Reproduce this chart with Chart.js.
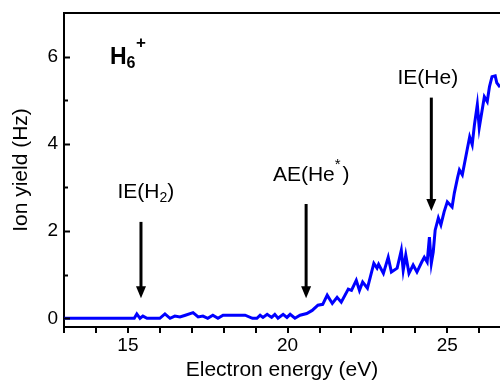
<!DOCTYPE html>
<html>
<head>
<meta charset="utf-8">
<script src="https://cdn.jsdelivr.net/npm/chart.js@4/dist/chart.umd.min.js"></script>
<style>
	body { margin: 0; background: #fff; }
	#wrap { width: 500px; height: 381px; }
</style>
</head>
<body>
<div id="wrap"><canvas id="ion-chart"></canvas></div>
<script>
// Electron energy (eV) and ion yield (Hz)
const energy = [
	13.0, 13.5, 14.0, 14.5, 15.0, 15.2, 15.28, 15.38, 15.47, 15.6,
	16.0, 16.16, 16.32, 16.47, 16.63, 16.8, 17.04, 17.2, 17.35, 17.5,
	17.66, 17.82, 17.98, 18.2, 18.5, 18.67, 18.9, 19.04, 19.14, 19.23,
	19.36, 19.5, 19.6, 19.7, 19.86, 19.98, 20.08, 20.23, 20.39, 20.6,
	20.77, 20.95, 21.1, 21.24, 21.4, 21.55, 21.68, 21.9, 22.0, 22.15,
	22.25, 22.35, 22.5, 22.7, 22.8, 22.85, 23.0, 23.15, 23.25, 23.43,
	23.56, 23.62, 23.7, 23.8, 23.93, 24.05, 24.2, 24.28, 24.37, 24.44,
	24.5, 24.56, 24.62, 24.72, 24.8, 24.9, 25.0, 25.15, 25.22, 25.32,
	25.38, 25.47, 25.62, 25.7, 25.78, 25.85, 25.94, 26.0, 26.16, 26.25,
	26.32, 26.4, 26.5, 26.55, 26.65
];
const ionYield = [
	0.0, 0.0, 0.0, 0.0, 0.0, 0.0, 0.1, 0.0, 0.05, 0.0,
	0.0, 0.1, 0.0, 0.05, 0.03, 0.07, 0.13, 0.03, 0.05, 0.0,
	0.07, 0.0, 0.07, 0.07, 0.07, 0.07, 0.0, 0.0, 0.07, 0.02,
	0.09, 0.02, 0.09, 0.0, 0.09, 0.02, 0.09, 0.0, 0.07, 0.11,
	0.18, 0.3, 0.32, 0.53, 0.34, 0.48, 0.37, 0.67, 0.64, 0.87,
	0.64, 0.83, 0.69, 1.26, 1.15, 1.24, 1.03, 1.4, 1.06, 1.15,
	1.56, 1.1, 1.45, 1.03, 1.22, 1.06, 1.29, 1.4, 1.29, 1.86,
	1.26, 1.52, 2.02, 2.3, 2.14, 2.44, 2.67, 2.55, 2.87, 3.22,
	3.4, 3.29, 3.86, 4.16, 3.98, 4.44, 4.9, 4.37, 5.08, 4.97,
	5.31, 5.54, 5.56, 5.4, 5.3
];
const xLabelTicks = [15, 20, 25];
const yLabelTicks = [0, 2, 4, 6];

// threshold markers: energy, arrow from / to (yield units)
const markers = [
	{ x: 15.41, from: 2.21, to: 0.46 },
	{ x: 20.58, from: 2.62, to: 0.46 },
	{ x: 24.5, from: 5.06, to: 2.46 }
];

const FONT = '"Liberation Sans", Arial, sans-serif';

// draws pieces of text [{t, size, bold, dy}] starting at x (or centred)
function drawPieces(ctx, pieces, x, y, center) {
	let total = 0;
	pieces.forEach(p => {
		ctx.font = (p.bold ? 'bold ' : '') + p.size + 'px ' + FONT;
		p.w = ctx.measureText(p.t).width;
		total += p.w + (p.gap || 0);
	});
	let cx = center ? x - total / 2 : x;
	pieces.forEach(p => {
		ctx.font = (p.bold ? 'bold ' : '') + p.size + 'px ' + FONT;
		ctx.fillText(p.t, cx, y + (p.dy || 0));
		cx += p.w + (p.gap || 0);
	});
}

const decorations = {
	id: 'decorations',
	afterDraw(chart) {
		const ctx = chart.ctx;
		const xs = chart.scales.x;
		const ys = chart.scales.y;
		const area = chart.chartArea;
		ctx.save();
		ctx.strokeStyle = '#000';
		ctx.fillStyle = '#000';

		// top frame line
		ctx.lineWidth = 2;
		ctx.beginPath();
		ctx.moveTo(area.left, area.top);
		ctx.lineTo(area.right, area.top);
		ctx.stroke();

		// inward y ticks
		ys.ticks.forEach(t => {
			if (t.value < 0 || t.value > 6) return;
			const py = Math.round(ys.getPixelForValue(t.value)) + 0.5;
			const len = t.value % 2 === 0 ? 6 : 4;
			ctx.beginPath();
			ctx.moveTo(area.left, py);
			ctx.lineTo(area.left + len, py);
			ctx.stroke();
		});

		// arrows
		markers.forEach(m => {
			const px = xs.getPixelForValue(m.x);
			const y1 = ys.getPixelForValue(m.from);
			const y2 = ys.getPixelForValue(m.to);
			ctx.lineWidth = 3;
			ctx.beginPath();
			ctx.moveTo(px, y1);
			ctx.lineTo(px, y2 - 10);
			ctx.stroke();
			ctx.beginPath();
			ctx.moveTo(px - 5, y2 - 12);
			ctx.lineTo(px + 5, y2 - 12);
			ctx.lineTo(px, y2);
			ctx.closePath();
			ctx.fill();
		});

		// labels
		ctx.textBaseline = 'alphabetic';
		ctx.textAlign = 'left';
		const hx = xs.getPixelForValue(14.44);
		const hy = ys.getPixelForValue(5.82);
		drawPieces(ctx, [
			{ t: 'H', size: 23, bold: true },
			{ t: '6', size: 16, bold: true, dy: 4 }
		], hx, hy, false);
		ctx.font = 'bold 17px ' + FONT;
		ctx.fillText('+', hx + 26, hy - 16);

		drawPieces(ctx, [
			{ t: 'IE(H', size: 21 },
			{ t: '2', size: 14, dy: 4 },
			{ t: ')', size: 21 }
		], xs.getPixelForValue(15.56), ys.getPixelForValue(2.76), true);

		drawPieces(ctx, [
			{ t: 'AE(He', size: 21 },
			{ t: '*', size: 15, dy: -12, gap: 2 },
			{ t: ')', size: 21 }
		], xs.getPixelForValue(20.74), ys.getPixelForValue(3.15), true);

		drawPieces(ctx, [
			{ t: 'IE(He)', size: 21 }
		], xs.getPixelForValue(24.39), ys.getPixelForValue(5.38), true);

		ctx.restore();
	}
};

const points = energy.map((e, i) => ({ x: e, y: ionYield[i] }));

new Chart(document.getElementById('ion-chart').getContext('2d'), {
	type: 'line',
	data: {
		datasets: [{
			label: 'H6+',
			data: points,
			borderColor: '#0000ff',
			borderWidth: 3,
			pointRadius: 0,
			tension: 0,
			fill: false
		}]
	},
	options: {
		responsive: true,
		maintainAspectRatio: false,
		animation: false,
		layout: {
			padding: { top: 13, right: 0, left: 0, bottom: 0 }
		},
		plugins: {
			legend: { display: false },
			tooltip: { enabled: false }
		},
		scales: {
			x: {
				type: 'linear',
				min: 13,
				max: 26.65,
				afterFit(scale) {
					scale.height = 54;
					scale.paddingLeft = 0;
					scale.paddingRight = 0;
				},
				border: { color: '#000', width: 2 },
				grid: {
					drawOnChartArea: false,
					drawTicks: true,
					tickLength: 6,
					color: '#000',
					lineWidth: 2
				},
				ticks: {
					stepSize: 1,
					includeBounds: false,
					autoSkip: false,
					maxRotation: 0,
					padding: 1,
					color: '#000',
					font: { family: FONT, size: 19 },
					callback: v => xLabelTicks.includes(v) ? String(v) : ''
				},
				title: {
					display: true,
					text: 'Electron energy (eV)',
					color: '#000',
					font: { family: FONT, size: 21, lineHeight: 1 },
					padding: { top: 0, bottom: 0 }
				}
			},
			y: {
				min: -0.2,
				max: 7,
				afterFit(scale) {
					scale.width = 64;
					scale.paddingTop = 0;
					scale.paddingBottom = 0;
				},
				border: { color: '#000', width: 2 },
				grid: { display: false, drawTicks: false },
				ticks: {
					stepSize: 1,
					includeBounds: false,
					autoSkip: false,
					padding: 6,
					color: '#000',
					font: { family: FONT, size: 19 },
					callback: v => yLabelTicks.includes(v) ? String(v) : ''
				},
				title: {
					display: true,
					text: 'Ion yield (Hz)',
					color: '#000',
					font: { family: FONT, size: 21, lineHeight: 1.2 },
					padding: { top: 9, bottom: 0 }
				}
			}
		}
	},
	plugins: [decorations]
});
</script>
</body>
</html>
